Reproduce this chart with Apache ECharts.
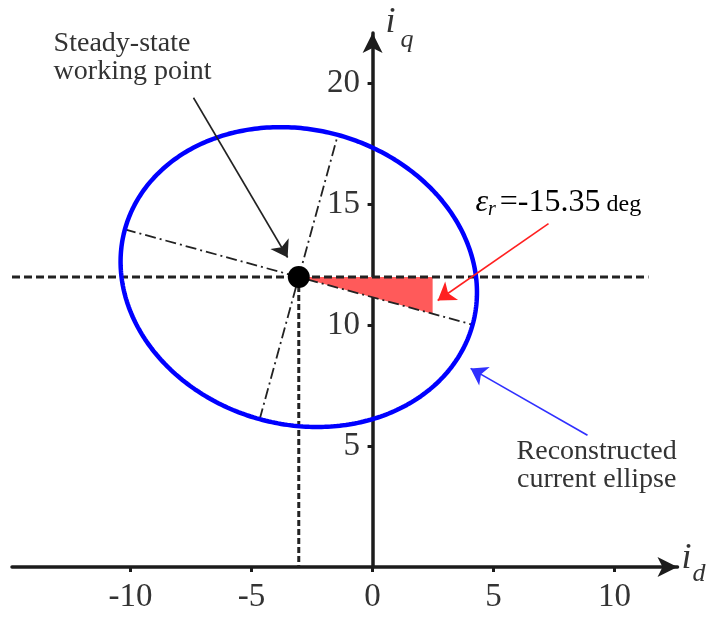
<!DOCTYPE html>
<html>
<head>
<meta charset="utf-8">
<script src="https://cdn.jsdelivr.net/npm/echarts@6/dist/echarts.min.js"></script>
<style>
  html, body { margin: 0; padding: 0; background: #ffffff; }
  #chart { width: 716px; height: 619px; }
</style>
</head>
<body>
<div id="chart"></div>
<script>
// Steady-state working point and reconstructed current ellipse in the d-q plane
const workingPoint = [-3.05, 12.0];
const ellipseSemiAxes = [7.45, 6.1];      // major, minor
const tiltDeg = -15.35;                   // epsilon_r
const xTickValues = [-10, -5, 0, 5, 10];
const yTickValues = [5, 10, 15, 20];
const xRange = [-14.9, 12.6];
const yRange = [0, 22.1];
const referenceLineX = [-14.9, 11.4];     // horizontal dashed line through the working point
const wedgeEndX = 2.48;                   // right edge of the shaded angle
const pointArrow = [[-7.40, 19.42], [-3.51, 12.81]];
const angleArrow = [[7.27, 14.21], [2.69, 11.03]];
const ellipseArrow = [[8.88, 5.45], [4.05, 8.22]];
// text anchors (data coordinates)
const pointLabelAt = [-13.18, 21.07];
const angleLabelAt = [4.25, 15.1];
const ellipseLabelAt = [9.26, 4.2];

const SERIF = '"Liberation Serif", "Times New Roman", serif';
const INK = '#1c1c1c';
const tilt = tiltDeg * Math.PI / 180;
const [cx, cy] = workingPoint;
const [ea, eb] = ellipseSemiAxes;

// Ellipse outline from centre, semi-axes and tilt
const ellipsePts = [];
for (let k = 0; k <= 360; k++) {
  const p = 2 * Math.PI * k / 360;
  const u = ea * Math.cos(p), v = eb * Math.sin(p);
  ellipsePts.push([cx + u * Math.cos(tilt) - v * Math.sin(tilt),
                   cy + u * Math.sin(tilt) + v * Math.cos(tilt)]);
}
const majorAxis = [[cx - ea * Math.cos(tilt), cy - ea * Math.sin(tilt)],
                   [cx + ea * Math.cos(tilt), cy + ea * Math.sin(tilt)]];
const minorAxis = [[cx + eb * Math.sin(tilt), cy - eb * Math.cos(tilt)],
                   [cx - eb * Math.sin(tilt), cy + eb * Math.cos(tilt)]];
const wedge = [[cx, cy], [wedgeEndX, cy],
               [wedgeEndX, cy + (wedgeEndX - cx) * Math.tan(tilt)]];

const chart = echarts.init(document.getElementById('chart'), null, { renderer: 'canvas' });

const axisLineStyle = {
  show: true, onZero: true,
  symbol: ['none', 'arrow'], symbolSize: [15, 20],
  lineStyle: { color: INK, width: 3.5 }
};

const option = {
  animation: false,
  backgroundColor: '#ffffff',
  grid: { left: 12, right: 38.5, top: 33, bottom: 52, containLabel: false, outerBoundsMode: 'none' },
  xAxis: {
    type: 'value', min: xRange[0], max: xRange[1],
    axisLine: axisLineStyle,
    axisTick: { show: true, length: 5, customValues: xTickValues, lineStyle: { color: INK, width: 3 } },
    splitLine: { show: false },
    axisLabel: {
      show: true, customValues: xTickValues, margin: 14,
      color: '#333333', fontFamily: SERIF, fontSize: 33, formatter: v => String(v)
    }
  },
  yAxis: {
    type: 'value', min: yRange[0], max: yRange[1],
    axisLine: axisLineStyle,
    axisTick: { show: true, length: 5, customValues: yTickValues, lineStyle: { color: INK, width: 3 } },
    splitLine: { show: false },
    axisLabel: { show: false }
  },
  series: [
    {
      // shaded rotation angle
      type: 'custom',
      coordinateSystem: 'cartesian2d',
      z: 2,
      data: [0],
      renderItem: (params, api) => ({
        type: 'polygon',
        shape: { points: wedge.map(p => api.coord(p)) },
        style: { fill: '#ff5a5a' }
      })
    },
    {
      type: 'line', z: 3, symbol: 'none', silent: true,
      lineStyle: { color: '#222222', width: 3, type: [8, 4] },
      data: [[referenceLineX[0], cy], [referenceLineX[1], cy]]
    },
    {
      type: 'line', z: 3, symbol: 'none', silent: true,
      lineStyle: { color: '#222222', width: 3, type: [6, 3] },
      data: [[cx, cy], [cx, 0]]
    },
    {
      type: 'line', z: 3, symbol: 'none', silent: true,
      lineStyle: { color: '#222222', width: 1.8, type: [11, 4, 2, 4] },
      data: majorAxis
    },
    {
      type: 'line', z: 3, symbol: 'none', silent: true,
      lineStyle: { color: '#222222', width: 1.8, type: [11, 4, 2, 4] },
      data: minorAxis
    },
    {
      type: 'line', z: 4, symbol: 'none', silent: true,
      lineStyle: { color: '#0000ff', width: 4.5 },
      data: ellipsePts
    },
    {
      type: 'scatter', z: 6, symbol: 'circle', symbolSize: 22, silent: true,
      itemStyle: { color: '#000000', opacity: 1 },
      data: [workingPoint]
    },
    {
      // y tick labels, set beside the i_q axis
      type: 'scatter', z: 6, symbol: 'circle', symbolSize: 1, silent: true,
      itemStyle: { color: 'rgba(0,0,0,0)', opacity: 1 },
      data: yTickValues.map(v => [0, v]),
      label: {
        show: true, position: 'left', distance: 12, opacity: 1,
        color: '#333333', fontFamily: SERIF, fontSize: 33,
        formatter: p => String(p.value[1])
      }
    },
    {
      type: 'lines', coordinateSystem: 'cartesian2d', z: 5, silent: true,
      symbol: ['none', 'arrow'], symbolSize: 16,
      lineStyle: { color: '#222222', width: 1.6, opacity: 1, curveness: 0 },
      data: [{ coords: pointArrow }]
    },
    {
      type: 'lines', coordinateSystem: 'cartesian2d', z: 5, silent: true,
      symbol: ['none', 'arrow'], symbolSize: 17,
      lineStyle: { color: '#ff2020', width: 1.6, opacity: 1, curveness: 0 },
      data: [{ coords: angleArrow }]
    },
    {
      type: 'lines', coordinateSystem: 'cartesian2d', z: 5, silent: true,
      symbol: ['none', 'arrow'], symbolSize: 16,
      lineStyle: { color: '#3030ff', width: 1.6, opacity: 1, curveness: 0 },
      data: [{ coords: ellipseArrow }]
    }
  ]
};
chart.setOption(option);

// Annotations placed through the axes' own scales
const toPx = p => chart.convertToPixel({ xAxisIndex: 0, yAxisIndex: 0 }, p);
const pPoint = toPx(pointLabelAt);
const pAngle = toPx(angleLabelAt);
const pEll = toPx(ellipseLabelAt);
const pXEnd = toPx([xRange[1], 0]);
const pYEnd = toPx([0, yRange[1]]);

const richBase = { fontFamily: SERIF, color: '#444444' };
chart.setOption({
  graphic: [
    {
      type: 'text', x: pPoint[0], y: pPoint[1], z: 10,
      style: {
        text: 'Steady-state\nworking point', fill: '#333333',
        fontFamily: SERIF, fontSize: 28, lineHeight: 28,
        align: 'left', verticalAlign: 'middle'
      }
    },
    {
      type: 'text', x: pEll[0], y: pEll[1], z: 10,
      style: {
        text: 'Reconstructed\ncurrent ellipse', fill: '#333333',
        fontFamily: SERIF, fontSize: 28, lineHeight: 28,
        align: 'center', verticalAlign: 'middle'
      }
    },
    {
      type: 'text', x: pAngle[0], y: pAngle[1], z: 10,
      style: {
        text: '{e|ε}{r|r}{n|=-15.35}{u| deg}',
        align: 'left', verticalAlign: 'middle',
        rich: {
          e: Object.assign({ fontStyle: 'italic', fontSize: 32, lineHeight: 36, verticalAlign: 'middle' }, richBase),
          r: Object.assign({ fontStyle: 'italic', fontSize: 20, lineHeight: 26, verticalAlign: 'bottom', padding: [0, 4, 0, 0] }, richBase),
          n: Object.assign({ fontSize: 32, lineHeight: 36, verticalAlign: 'middle' }, richBase),
          u: Object.assign({ fontSize: 24, lineHeight: 36, verticalAlign: 'middle', padding: [6, 0, 0, 0] }, richBase)
        }
      }
    },
    {
      type: 'text', x: pXEnd[0] + 4, y: pXEnd[1] + 10, z: 10,
      style: {
        text: 'i', fill: '#333333', fontFamily: SERIF, fontStyle: 'italic',
        fontSize: 36, align: 'left', verticalAlign: 'bottom'
      }
    },
    {
      type: 'text', x: pXEnd[0] + 15, y: pXEnd[1] + 20, z: 10,
      style: {
        text: 'd', fill: '#333333', fontFamily: SERIF, fontStyle: 'italic',
        fontSize: 26, align: 'left', verticalAlign: 'bottom'
      }
    },
    {
      type: 'text', x: pYEnd[0] + 13, y: pYEnd[1] + 8, z: 10,
      style: {
        text: 'i', fill: '#333333', fontFamily: SERIF, fontStyle: 'italic',
        fontSize: 36, align: 'left', verticalAlign: 'bottom'
      }
    },
    {
      type: 'text', x: pYEnd[0] + 28, y: pYEnd[1] + 20, z: 10,
      style: {
        text: 'q', fill: '#333333', fontFamily: SERIF, fontStyle: 'italic',
        fontSize: 26, align: 'left', verticalAlign: 'bottom'
      }
    }
  ]
});
</script>
</body>
</html>
